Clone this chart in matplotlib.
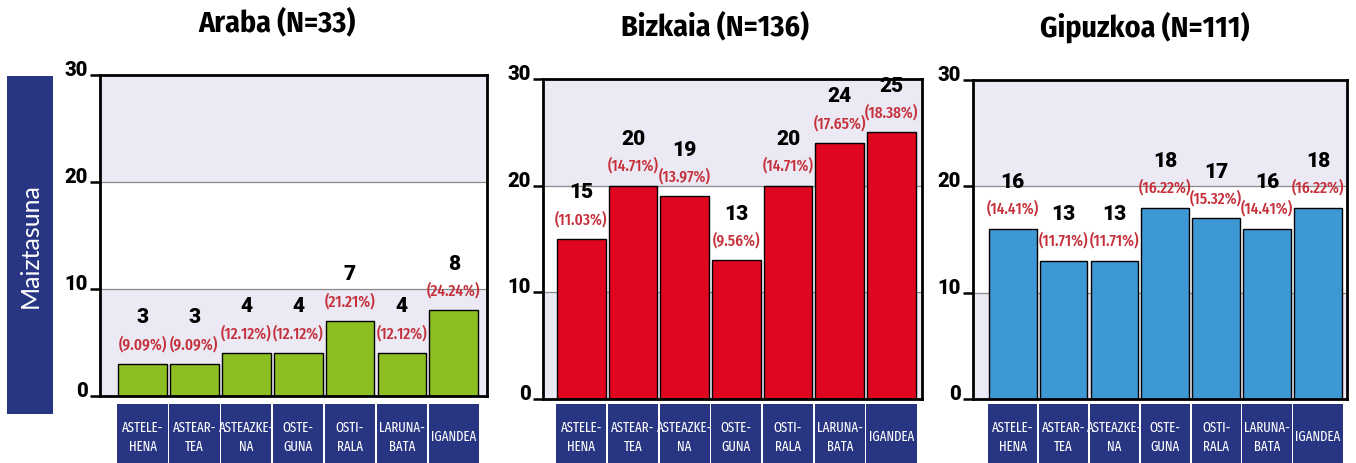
import matplotlib.pyplot as plt
from matplotlib.patches import Rectangle
from matplotlib import transforms

# data
days = ["ASTELE-\nHENA", "ASTEAR-\nTEA", "ASTEAZKE-\nNA", "OSTE-\nGUNA",
        "OSTI-\nRALA", "LARUNA-\nBATA", "IGANDEA"]
titles = ["Araba (N=33)", "Bizkaia (N=136)", "Gipuzkoa (N=111)"]
araba = [3, 3, 4, 4, 7, 4, 8]
araba_pct = [9.09, 9.09, 12.12, 12.12, 21.21, 12.12, 24.24]
bizkaia = [15, 20, 19, 13, 20, 24, 25]
bizkaia_pct = [11.03, 14.71, 13.97, 9.56, 14.71, 17.65, 18.38]
gipuzkoa = [16, 13, 13, 18, 17, 16, 18]
gipuzkoa_pct = [14.41, 11.71, 11.71, 16.22, 15.32, 14.41, 16.22]
yticks = [0, 10, 20, 30]

NAVY = '#283583'
LAVENDER = '#EBE9F4'
PCT_RED = '#C5303B'
COND = ['Fira Sans Condensed', 'DejaVu Sans']
XCOND = ['Fira Sans Extra Condensed', 'DejaVu Sans']
NUMFONT = ['Roboto', 'DejaVu Sans']

W, H = 1356, 464
fig = plt.figure(figsize=(W / 100, H / 100), dpi=100)

# panel boxes in pixels: left, top, right, bottom + xlim
panels = [
    dict(vals=araba, pct=araba_pct, color='#8DBF22', box=(100, 76, 487, 397),
         xlim=(-0.82, 6.64), title_x=277, title_y=23),
    dict(vals=bizkaia, pct=bizkaia_pct, color='#E0061F', box=(543, 80, 922, 400),
         xlim=(-0.74, 6.59), title_x=715, title_y=27),
    dict(vals=gipuzkoa, pct=gipuzkoa_pct, color='#3E98D4', box=(973, 81, 1347, 400),
         xlim=(-0.78, 6.57), title_x=1145, title_y=27),
]

x = list(range(len(days)))

for p, title in zip(panels, titles):
    l, t, r, b = p['box']
    ax = fig.add_axes([l / W, (H - b) / H, (r - l) / W, (b - t) / H])
    ax.set_xlim(*p['xlim'])
    ax.set_ylim(0, 30)

    # alternating background bands
    ax.axhspan(0, 10, color=LAVENDER, zorder=0, lw=0)
    ax.axhspan(20, 30, color=LAVENDER, zorder=0, lw=0)
    for g in (10, 20):
        ax.axhline(g, color='#8a8a8a', lw=0.9, zorder=1)

    ax.bar(x, p['vals'], width=0.94, color=p['color'], edgecolor='black',
           linewidth=1.0, zorder=2)

    for xi, v, pc in zip(x, p['vals'], p['pct']):
        ax.annotate(f"({pc:.2f}%)", (xi, v), xytext=(0, 15), textcoords='offset points',
                    ha='center', va='center', color=PCT_RED, fontsize=12,
                    fontweight='medium', family=XCOND, zorder=3)
        ax.annotate(str(v), (xi, v), xytext=(0, 34), textcoords='offset points',
                    ha='center', va='center', color='black', fontsize=15,
                    fontweight='black', family=NUMFONT, zorder=3)

    for s in ax.spines.values():
        s.set_linewidth(2.0)
        s.set_color('black')
    ax.set_xticks([])
    ax.set_yticks(yticks)
    ax.set_yticklabels([str(v) for v in yticks], fontsize=14.5, fontweight='black',
                       family=NUMFONT)
    for lab in ax.get_yticklabels():
        lab.set_verticalalignment('baseline')
    ax.tick_params(axis='y', length=7, width=1.8, pad=2)

    # day boxes below the axis
    tr = transforms.blended_transform_factory(ax.transData, fig.transFigure)
    for xi, d in zip(x, days):
        ax.add_patch(Rectangle((xi - 0.485, 0), 0.97, (H - 405) / H, transform=tr,
                               facecolor=NAVY, edgecolor='none', clip_on=False))
        ax.text(xi, (H - 437) / H, d, transform=tr, ha='center', va='center',
                color='white', fontsize=10, family=XCOND, linespacing=1.4)

    fig.text(p['title_x'] / W, 1 - p['title_y'] / H, title, ha='center', va='center',
             fontsize=21.5, fontweight='bold', family=COND)

# y-axis label box
fig.patches.append(Rectangle((7 / W, (H - 415) / H), 46 / W, 338 / H,
                             transform=fig.transFigure, facecolor=NAVY,
                             edgecolor='none'))
fig.text(30 / W, (H - 246) / H, 'Maiztasuna', rotation=90, ha='center', va='center',
         color='white', fontsize=18, fontweight='normal',
         family=['Lato', 'DejaVu Sans'])

fig.savefig('out.png', dpi=100)
